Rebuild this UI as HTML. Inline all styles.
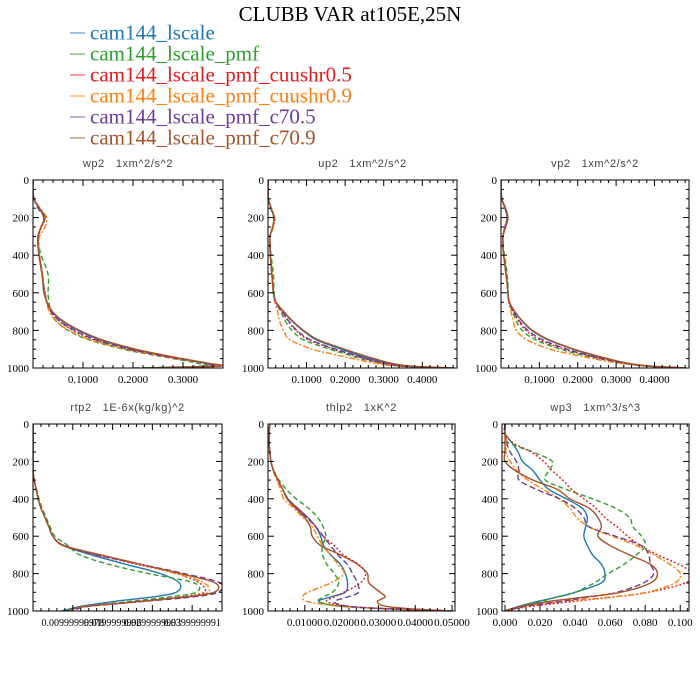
<!DOCTYPE html>
<html><head><meta charset="utf-8">
<style>
html,body{margin:0;padding:0;background:#fff;}
svg{display:block;}
text{white-space:pre;}
</style></head>
<body>
<svg id="chart" width="700" height="700" viewBox="0 0 700 700" xmlns="http://www.w3.org/2000/svg">
<text x="350" y="21" text-anchor="middle" font-family="Liberation Serif, serif" font-size="21" fill="#000">CLUBB VAR at105E,25N</text>
<g id="legend"></g>
<g id="panels"></g>
</svg>
<script>
const seriesNames = ["cam144_lscale","cam144_lscale_pmf","cam144_lscale_pmf_cuushr0.5","cam144_lscale_pmf_cuushr0.9","cam144_lscale_pmf_c70.5","cam144_lscale_pmf_c70.9"];
const levels = [0,50,100,150,200,250,300,350,400,450,500,550,600,650,700,750,800,850,900,925,950,975,990,1000];
const yTicks = [0,200,400,600,800,1000];

const wp2Blue   = [0,0,0.002,0.012,0.024,0.016,0.010,0.010,0.012,0.015,0.018,0.020,0.022,0.028,0.038,0.058,0.090,0.134,0.200,0.245,0.294,0.345,0.35,0.22];
const wp2Green  = [0,0,0.002,0.012,0.022,0.016,0.010,0.012,0.016,0.024,0.030,0.031,0.030,0.032,0.036,0.046,0.070,0.112,0.180,0.228,0.280,0.330,0.34,0.20];
const wp2Red    = [0,0,0.002,0.013,0.024,0.017,0.011,0.011,0.013,0.016,0.019,0.021,0.024,0.028,0.036,0.052,0.080,0.122,0.190,0.238,0.290,0.350,0.375,0.24];
const wp2Orange = [0,0,0.002,0.014,0.027,0.024,0.013,0.012,0.013,0.016,0.019,0.021,0.024,0.027,0.033,0.046,0.072,0.115,0.185,0.235,0.285,0.350,0.37,0.24];
const wp2Purple = [0,0,0.002,0.010,0.022,0.016,0.010,0.010,0.012,0.015,0.018,0.021,0.023,0.028,0.036,0.053,0.083,0.126,0.192,0.240,0.290,0.345,0.36,0.23];
const wp2Brown  = [0,0,0.002,0.013,0.024,0.016,0.010,0.010,0.012,0.015,0.018,0.020,0.022,0.028,0.039,0.060,0.093,0.138,0.205,0.250,0.298,0.352,0.37,0.23];

const up2Blue   = [0,0,0.001,0.008,0.016,0.012,0.005,0.005,0.006,0.008,0.010,0.012,0.014,0.020,0.040,0.062,0.090,0.125,0.190,0.225,0.262,0.310,0.36,0.48];
const up2Green  = [0,0,0.001,0.008,0.015,0.012,0.005,0.006,0.008,0.011,0.014,0.015,0.016,0.020,0.033,0.045,0.062,0.092,0.160,0.200,0.240,0.295,0.35,0.48];
const up2Red    = [0,0,0.001,0.009,0.016,0.012,0.005,0.005,0.006,0.008,0.010,0.012,0.014,0.020,0.036,0.052,0.072,0.105,0.170,0.210,0.250,0.300,0.35,0.48];
const up2Orange = [0,0,0.001,0.009,0.018,0.014,0.006,0.006,0.007,0.009,0.011,0.013,0.014,0.018,0.025,0.030,0.040,0.057,0.114,0.165,0.220,0.280,0.34,0.48];
const up2Purple = [0,0,0.001,0.007,0.015,0.012,0.005,0.005,0.006,0.008,0.010,0.012,0.014,0.020,0.037,0.054,0.075,0.110,0.175,0.215,0.255,0.305,0.355,0.48];
const up2Brown  = [0,0,0.001,0.008,0.016,0.012,0.005,0.005,0.006,0.008,0.010,0.012,0.014,0.021,0.041,0.064,0.092,0.130,0.198,0.235,0.275,0.320,0.37,0.48];

const vp2Blue   = [0,0,0.002,0.012,0.018,0.012,0.005,0.005,0.007,0.010,0.013,0.016,0.018,0.022,0.036,0.055,0.080,0.122,0.187,0.228,0.275,0.330,0.39,0.48];
const vp2Green  = [0,0,0.002,0.010,0.016,0.010,0.005,0.006,0.009,0.013,0.016,0.018,0.019,0.021,0.030,0.040,0.055,0.090,0.155,0.200,0.255,0.320,0.385,0.48];
const vp2Red    = [0,0,0.002,0.011,0.017,0.011,0.005,0.005,0.007,0.010,0.013,0.016,0.018,0.021,0.032,0.046,0.065,0.100,0.165,0.210,0.262,0.325,0.385,0.48];
const vp2Orange = [0,0,0.002,0.011,0.018,0.012,0.006,0.006,0.008,0.011,0.014,0.016,0.018,0.020,0.026,0.032,0.040,0.067,0.127,0.180,0.240,0.310,0.38,0.48];
const vp2Purple = [0,0,0.002,0.010,0.016,0.010,0.005,0.005,0.007,0.010,0.013,0.016,0.018,0.021,0.033,0.048,0.070,0.108,0.172,0.215,0.265,0.325,0.385,0.48];
const vp2Brown  = [0,0,0.002,0.011,0.018,0.012,0.005,0.005,0.007,0.010,0.013,0.016,0.018,0.022,0.036,0.056,0.082,0.125,0.190,0.232,0.278,0.332,0.39,0.48];

const rtp2Blue   = [0,0,0,0,0,0,0.0003,0.0008,0.0013,0.0020,0.0030,0.0040,0.0050,0.0075,0.0147,0.0233,0.0320,0.0368,0.0360,0.0300,0.0200,0.0120,0.0090,0.0070];
const rtp2Green  = [0,0,0,0,0,0,0.0003,0.0009,0.0015,0.0023,0.0033,0.0043,0.0055,0.0088,0.0118,0.0190,0.0290,0.0405,0.0410,0.0340,0.0240,0.0130,0.0100,0.0080];
const rtp2Red    = [0,0,0,0,0,0,0.0003,0.0008,0.0013,0.0020,0.0030,0.0040,0.0050,0.0075,0.0160,0.0260,0.0360,0.0418,0.0430,0.0370,0.0260,0.0140,0.0100,0.0090];
const rtp2Orange = [0,0,0,0,0,0,0.0003,0.0008,0.0013,0.0020,0.0030,0.0040,0.0050,0.0078,0.0170,0.0270,0.0360,0.0430,0.0440,0.0390,0.0270,0.0140,0.0100,0.0090];
const rtp2Purple = [0,0,0,0,0,0,0.0003,0.0008,0.0013,0.0020,0.0030,0.0040,0.0050,0.0078,0.0160,0.0270,0.0380,0.0470,0.0465,0.0400,0.0270,0.0140,0.0110,0.0100];
const rtp2Brown  = [0,0,0,0,0,0,0.0003,0.0008,0.0013,0.0020,0.0030,0.0040,0.0050,0.0078,0.0170,0.0270,0.0370,0.0458,0.0455,0.0380,0.0260,0.0130,0.0100,0.0090];

const thlp2Blue   = [0.0005,0.0003,0.0003,0.0005,0.0008,0.0015,0.0027,0.0040,0.0054,0.0080,0.0108,0.0130,0.0143,0.0151,0.0170,0.0197,0.0210,0.0216,0.0210,0.0170,0.0138,0.0200,0.0350,0.0500];
const thlp2Green  = [0.0005,0.0003,0.0003,0.0005,0.0008,0.0016,0.0030,0.0050,0.0076,0.0110,0.0135,0.0150,0.0157,0.0148,0.0148,0.0160,0.0180,0.0192,0.0175,0.0151,0.0138,0.0200,0.0350,0.0500];
const thlp2Red    = [0.0005,0.0003,0.0003,0.0005,0.0008,0.0015,0.0027,0.0040,0.0054,0.0080,0.0108,0.0130,0.0150,0.0180,0.0205,0.0245,0.0265,0.0251,0.0206,0.0180,0.0160,0.0220,0.0350,0.0500];
const thlp2Orange = [0.0005,0.0003,0.0003,0.0005,0.0008,0.0014,0.0024,0.0034,0.0043,0.0070,0.0095,0.0120,0.0135,0.0148,0.0170,0.0190,0.0206,0.0170,0.0108,0.0095,0.0108,0.0200,0.0350,0.0500];
const thlp2Purple = [0.0005,0.0003,0.0003,0.0005,0.0008,0.0015,0.0027,0.0040,0.0054,0.0080,0.0105,0.0130,0.0150,0.0170,0.0190,0.0215,0.0230,0.0243,0.0246,0.0216,0.0180,0.0220,0.0350,0.0500];
const thlp2Brown  = [0.0005,0.0003,0.0003,0.0005,0.0008,0.0015,0.0027,0.0040,0.0052,0.0075,0.0100,0.0115,0.0120,0.0143,0.0197,0.0243,0.0270,0.0274,0.0305,0.0318,0.0297,0.0320,0.0400,0.0500];

const wp3Blue   = [0,0,0.0040,0.0075,0.010,0.016,0.020,0.025,0.035,0.044,0.047,0.046,0.045,0.047,0.050,0.055,0.057,0.055,0.040,0.030,0.018,0.008,0.003,0];
const wp3Green  = [0,0,0.0020,0.0160,0.027,0.025,0.023,0.035,0.050,0.063,0.071,0.073,0.078,0.080,0.075,0.068,0.059,0.051,0.040,0.030,0.020,0.009,0.003,0];
const wp3Red    = [0,0,0.0045,0.0150,0.022,0.027,0.033,0.038,0.045,0.052,0.057,0.064,0.070,0.077,0.087,0.099,0.107,0.103,0.082,0.062,0.038,0.015,0.005,0];
const wp3Orange = [0,0,0.0010,0.0005,0.003,0.007,0.013,0.022,0.031,0.037,0.041,0.048,0.061,0.075,0.085,0.094,0.100,0.097,0.081,0.060,0.031,0.012,0.004,0];
const wp3Purple = [0,0,0.0010,0.0030,0.0065,0.008,0.008,0.018,0.031,0.040,0.045,0.048,0.063,0.078,0.082,0.083,0.085,0.079,0.064,0.048,0.031,0.012,0.004,0];
const wp3Brown  = [0,0,0,0,0,0.006,0.016,0.030,0.037,0.048,0.053,0.055,0.053,0.060,0.071,0.083,0.087,0.083,0.066,0.046,0.024,0.010,0.003,0];

const wp2XTicks = [0.1,0.2,0.3];
const up2XTicks = [0.1,0.2,0.3,0.4];
const vp2XTicks = [0.1,0.2,0.3,0.4];
const rtp2XTicks = [0.01,0.02,0.03,0.04];
const rtp2XTickLabels = ["0.00999999978","0.0199999996","0.0299999993","0.0399999991"];
const thlp2XTicks = [0.01,0.02,0.03,0.04,0.05];
const wp3XTicks = [0,0.02,0.04,0.06,0.08,0.1];

const colors = ["#1f77b4","#2ca02c","#e31a1c","#ff7f0e","#6a3d9a","#a6522a"];
const dashes = ["none","5,3","2,2","6,2,2,2","6,3","none"];

const NS = "http://www.w3.org/2000/svg";
function mk(tag, attrs, parent){
  const e = document.createElementNS(NS, tag);
  for (const k in attrs) e.setAttribute(k, attrs[k]);
  if (parent) parent.appendChild(e);
  return e;
}

const legend = document.getElementById('legend');
seriesNames.forEach((n,i)=>{
  const cy = 33 + i*21;
  const ln = mk('line',{x1:70,x2:85,y1:cy,y2:cy,stroke:colors[i],'stroke-width':1.2,opacity:0.7},legend);
  
  
  const t = mk('text',{x:90,y:cy+6.5,'font-family':'Liberation Serif, serif','font-size':21,fill:colors[i]},legend);
  t.textContent = n;
  
  
});

const panelDefs = [
  {id:'wp2', title:'wp2   1xm^2/s^2', x0:33,x1:223,y0:180,y1:368, xmin:0,xmax:0.38, ticks:wp2XTicks, labels:null, dec:4, series:[wp2Blue,wp2Green,wp2Red,wp2Orange,wp2Purple,wp2Brown]},
  {id:'up2', title:'up2   1xm^2/s^2', x0:268,x1:457,y0:180,y1:368, xmin:0,xmax:0.49, ticks:up2XTicks, labels:null, dec:4, series:[up2Blue,up2Green,up2Red,up2Orange,up2Purple,up2Brown]},
  {id:'vp2', title:'vp2   1xm^2/s^2', x0:501,x1:689,y0:180,y1:368, xmin:0,xmax:0.49, ticks:vp2XTicks, labels:null, dec:4, series:[vp2Blue,vp2Green,vp2Red,vp2Orange,vp2Purple,vp2Brown]},
  {id:'rtp2', title:'rtp2   1E-6x(kg/kg)^2', x0:33,x1:222,y0:424,y1:611, xmin:0,xmax:0.0475, ticks:rtp2XTicks, labels:rtp2XTickLabels, dec:4, series:[rtp2Blue,rtp2Green,rtp2Red,rtp2Orange,rtp2Purple,rtp2Brown]},
  {id:'thlp2', title:'thlp2   1xK^2', x0:268,x1:455,y0:424,y1:611, xmin:0,xmax:0.0508, ticks:thlp2XTicks, labels:null, dec:5, series:[thlp2Blue,thlp2Green,thlp2Red,thlp2Orange,thlp2Purple,thlp2Brown]},
  {id:'wp3', title:'wp3   1xm^3/s^3', x0:502,x1:689,y0:424,y1:611, xmin:-0.0017,xmax:0.105, ticks:wp3XTicks, labels:null, dec:3, series:[wp3Blue,wp3Green,wp3Red,wp3Orange,wp3Purple,wp3Brown]}
];

function smoothPath(pts){
  let d = 'M'+pts[0][0].toFixed(2)+','+pts[0][1].toFixed(2);
  for (let i=0;i<pts.length-1;i++){
    const p0 = pts[Math.max(0,i-1)], p1 = pts[i], p2 = pts[i+1], p3 = pts[Math.min(pts.length-1,i+2)];
    const c1x = p1[0]+(p2[0]-p0[0])/6, c1y = p1[1]+(p2[1]-p0[1])/6;
    const c2x = p2[0]-(p3[0]-p1[0])/6, c2y = p2[1]-(p3[1]-p1[1])/6;
    d += ' C'+c1x.toFixed(2)+','+c1y.toFixed(2)+' '+c2x.toFixed(2)+','+c2y.toFixed(2)+' '+p2[0].toFixed(2)+','+p2[1].toFixed(2);
  }
  return d;
}

const panelsG = document.getElementById('panels');
panelDefs.forEach(P=>{
  const g = mk('g',{},panelsG);
  
  
  const xs = v => P.x0 + (v-P.xmin)/(P.xmax-P.xmin)*(P.x1-P.x0);
  const ys = p => P.y0 + p/1000*(P.y1-P.y0);

  const title = mk('text',{x:(P.x0+P.x1)/2,y:P.y0-13,'text-anchor':'middle','font-family':'Liberation Sans, sans-serif','font-size':11,fill:'#444','letter-spacing':'0.6'},g);
  title.textContent = P.title;
  
  

  const cp = mk('clipPath',{id:'clip-'+P.id},g);
  mk('rect',{x:P.x0,y:P.y0,width:P.x1-P.x0,height:P.y1-P.y0},cp);

  const sg = mk('g',{'clip-path':'url(#clip-'+P.id+')'},g);
  P.series.forEach((vals,i)=>{
    const pts = vals.map((v,k)=>[xs(v), ys(levels[k])]);
    const path = mk('path',{d:smoothPath(pts),fill:'none',stroke:colors[i],'stroke-width':1.4,'stroke-dasharray':dashes[i],'stroke-linejoin':'round'},sg);
    
    
  });

  const fr = mk('rect',{x:P.x0,y:P.y0,width:P.x1-P.x0,height:P.y1-P.y0,fill:'none',stroke:'#000','stroke-width':1},g);
  
  

  const tk = mk('g',{stroke:'#000','stroke-width':1},g);
  for (let p=0;p<=1000;p+=50){
    const y = ys(p), major = p%200===0, L = major?6:3;
    mk('line',{x1:P.x0,x2:P.x0+L,y1:y,y2:y},tk);
    mk('line',{x1:P.x1,x2:P.x1-L,y1:y,y2:y},tk);
  }
  yTicks.forEach(p=>{
    const t = mk('text',{x:P.x0-4,y:ys(p)+4,'text-anchor':'end','font-family':'Liberation Serif, serif','font-size':11,fill:'#000'},g);
    t.textContent = String(p);
    
    
  });
  const step = P.ticks[1]-P.ticks[0];
  const minor = step/5;
  const startM = Math.ceil(P.xmin/minor - 1e-6);
  for (let k=startM; k*minor<=P.xmax+1e-9; k++){
    const v = k*minor, x = xs(v);
    const major = Math.abs(Math.round(v/step)*step - v) < minor*0.01;
    const L = major?6:3;
    mk('line',{x1:x,x2:x,y1:P.y1,y2:P.y1-L},tk);
    mk('line',{x1:x,x2:x,y1:P.y0,y2:P.y0+L},tk);
  }
  P.ticks.forEach((v,i)=>{
    const t = mk('text',{x:xs(v),y:P.y1+15,'text-anchor':'middle','font-family':'Liberation Serif, serif','font-size':P.labels?10:11,fill:'#000'},g);
    t.textContent = P.labels ? P.labels[i] : v.toFixed(P.dec);
    
    
  });
});
</script>
</body></html>
